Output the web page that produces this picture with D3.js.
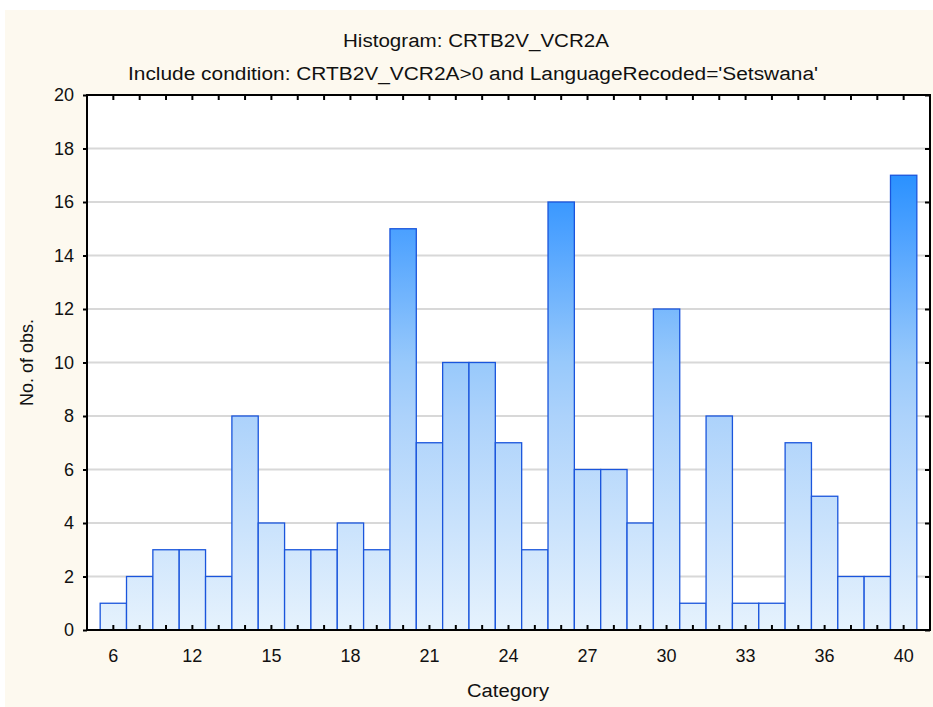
<!DOCTYPE html>
<html>
<head>
<meta charset="utf-8">
<script src="https://cdn.jsdelivr.net/npm/d3@7"></script>
<style>
  html, body { margin: 0; padding: 0; background: #ffffff; }
  svg text { font-family: "Liberation Sans", Arial, sans-serif; fill: #111; }
</style>
</head>
<body>
<div id="chart"></div>
<script>
// category values (distinct classes) and counts
const categories = [6, 8, 10, 12, 13, 14, 15, 16, 17, 18, 19, 20, 21, 22, 23, 24,
    25, 26, 27, 28, 29, 30, 31, 32, 33, 34, 35, 36, 37, 38, 40];
const counts = [1, 2, 3, 3, 2, 8, 4, 3, 3, 4, 3, 15, 7, 10, 10, 7,
    3, 16, 6, 6, 4, 12, 1, 8, 1, 1, 7, 5, 2, 2, 17];
const xTickLabels = [6, 12, 15, 18, 21, 24, 27, 30, 33, 36, 40];
const yTicks = [0, 2, 4, 6, 8, 10, 12, 14, 16, 18, 20];

const width = 933, height = 707;
const margin = { top: 95, right: 3, bottom: 77, left: 87 };

const svg = d3.select('#chart')
    .append('svg')
    .attr('width', width)
    .attr('height', height);

// cream frame
svg.append('rect')
    .attr('x', 5).attr('y', 10)
    .attr('width', width - 5).attr('height', height - 10)
    .attr('fill', '#fdf9ef');

const x = d3.scaleBand()
    .domain(categories)
    .range([margin.left, width - margin.right])
    .paddingInner(0)
    .paddingOuter(0.5);

const y = d3.scaleLinear()
    .domain([0, 20])
    .range([height - margin.bottom, margin.top]);

const x0 = margin.left, x1 = width - margin.right;
const y0 = y(0), y1 = y(20);

// plot background
svg.append('rect')
    .attr('x', x0).attr('y', y1)
    .attr('width', x1 - x0).attr('height', y0 - y1)
    .attr('fill', '#ffffff');

// gradient spans the whole value range, so tall bars get darker tops
const grad = svg.append('defs')
    .append('linearGradient')
    .attr('id', 'barGrad')
    .attr('gradientUnits', 'userSpaceOnUse')
    .attr('x1', 0).attr('x2', 0)
    .attr('y1', y(0)).attr('y2', y(20));
[[0, '#e6f2fd'], [0.4, '#acd2fb'], [0.5, '#98c9fb'], [0.75, '#4aa0ff'], [0.85, '#2a91ff'], [1, '#1080ff']]
    .forEach(([o, c]) => grad.append('stop').attr('offset', o).attr('stop-color', c));

// gridlines
svg.append('g')
    .selectAll('line')
    .data(yTicks.filter(d => d > 0 && d < 20))
    .join('line')
    .attr('x1', x0).attr('x2', x1)
    .attr('y1', d => y(d)).attr('y2', d => y(d))
    .attr('stroke', '#d8d8d8')
    .attr('stroke-width', 2);

// bars
svg.append('g')
    .selectAll('rect')
    .data(counts)
    .join('rect')
    .attr('x', (d, i) => x(categories[i]))
    .attr('y', d => y(d))
    .attr('width', x.bandwidth())
    .attr('height', d => y(0) - y(d))
    .attr('fill', 'url(#barGrad)')
    .attr('stroke', '#1a55dc')
    .attr('stroke-width', 1.3);

// axes
const fmtX = d => xTickLabels.includes(d) && categories.indexOf(d) % 3 === 0 ? d : '';

svg.append('g')
    .attr('transform', `translate(0,${y0})`)
    .call(d3.axisBottom(x).tickSize(0).tickPadding(19).tickFormat(fmtX));
svg.append('g')
    .attr('transform', `translate(0,${y0})`)
    .call(d3.axisBottom(x).tickSize(-5).tickFormat(''));
svg.append('g')
    .attr('transform', `translate(0,${y1})`)
    .call(d3.axisTop(x).tickSize(-5).tickFormat(''));
svg.append('g')
    .attr('transform', `translate(${x0},0)`)
    .call(d3.axisLeft(y).tickValues(yTicks).tickSize(4).tickPadding(9));
svg.append('g')
    .attr('transform', `translate(${x1},0)`)
    .call(d3.axisRight(y).tickValues(yTicks).tickSize(-5).tickFormat(''));

svg.selectAll('.domain').remove();
svg.selectAll('.tick line').attr('stroke', '#000').attr('stroke-width', 2);
svg.selectAll('.tick text')
    .style('font-size', '18px')
    .attr('fill', '#111');

// frame
svg.append('rect')
    .attr('x', x0).attr('y', y1)
    .attr('width', x1 - x0).attr('height', y0 - y1)
    .attr('fill', 'none')
    .attr('stroke', '#000')
    .attr('stroke-width', 2);

// titles (reference glyphs are slightly wider than Liberation Sans)
function label(txt, px, py, len) {
    return svg.append('text')
        .attr('x', px).attr('y', py)
        .attr('text-anchor', 'middle')
        .attr('textLength', len)
        .attr('lengthAdjust', 'spacingAndGlyphs')
        .style('font-size', '18px')
        .text(txt);
}
label('Histogram: CRTB2V_VCR2A', 476, 47, 266);
label("Include condition: CRTB2V_VCR2A>0 and LanguageRecoded='Setswana'", 473, 80, 690);
label('Category', 508, 697, 82);
label('No. of obs.', 0, 0, 87)
    .attr('transform', `translate(33,${(y0 + y1) / 2}) rotate(-90)`);
</script>
</body>
</html>
